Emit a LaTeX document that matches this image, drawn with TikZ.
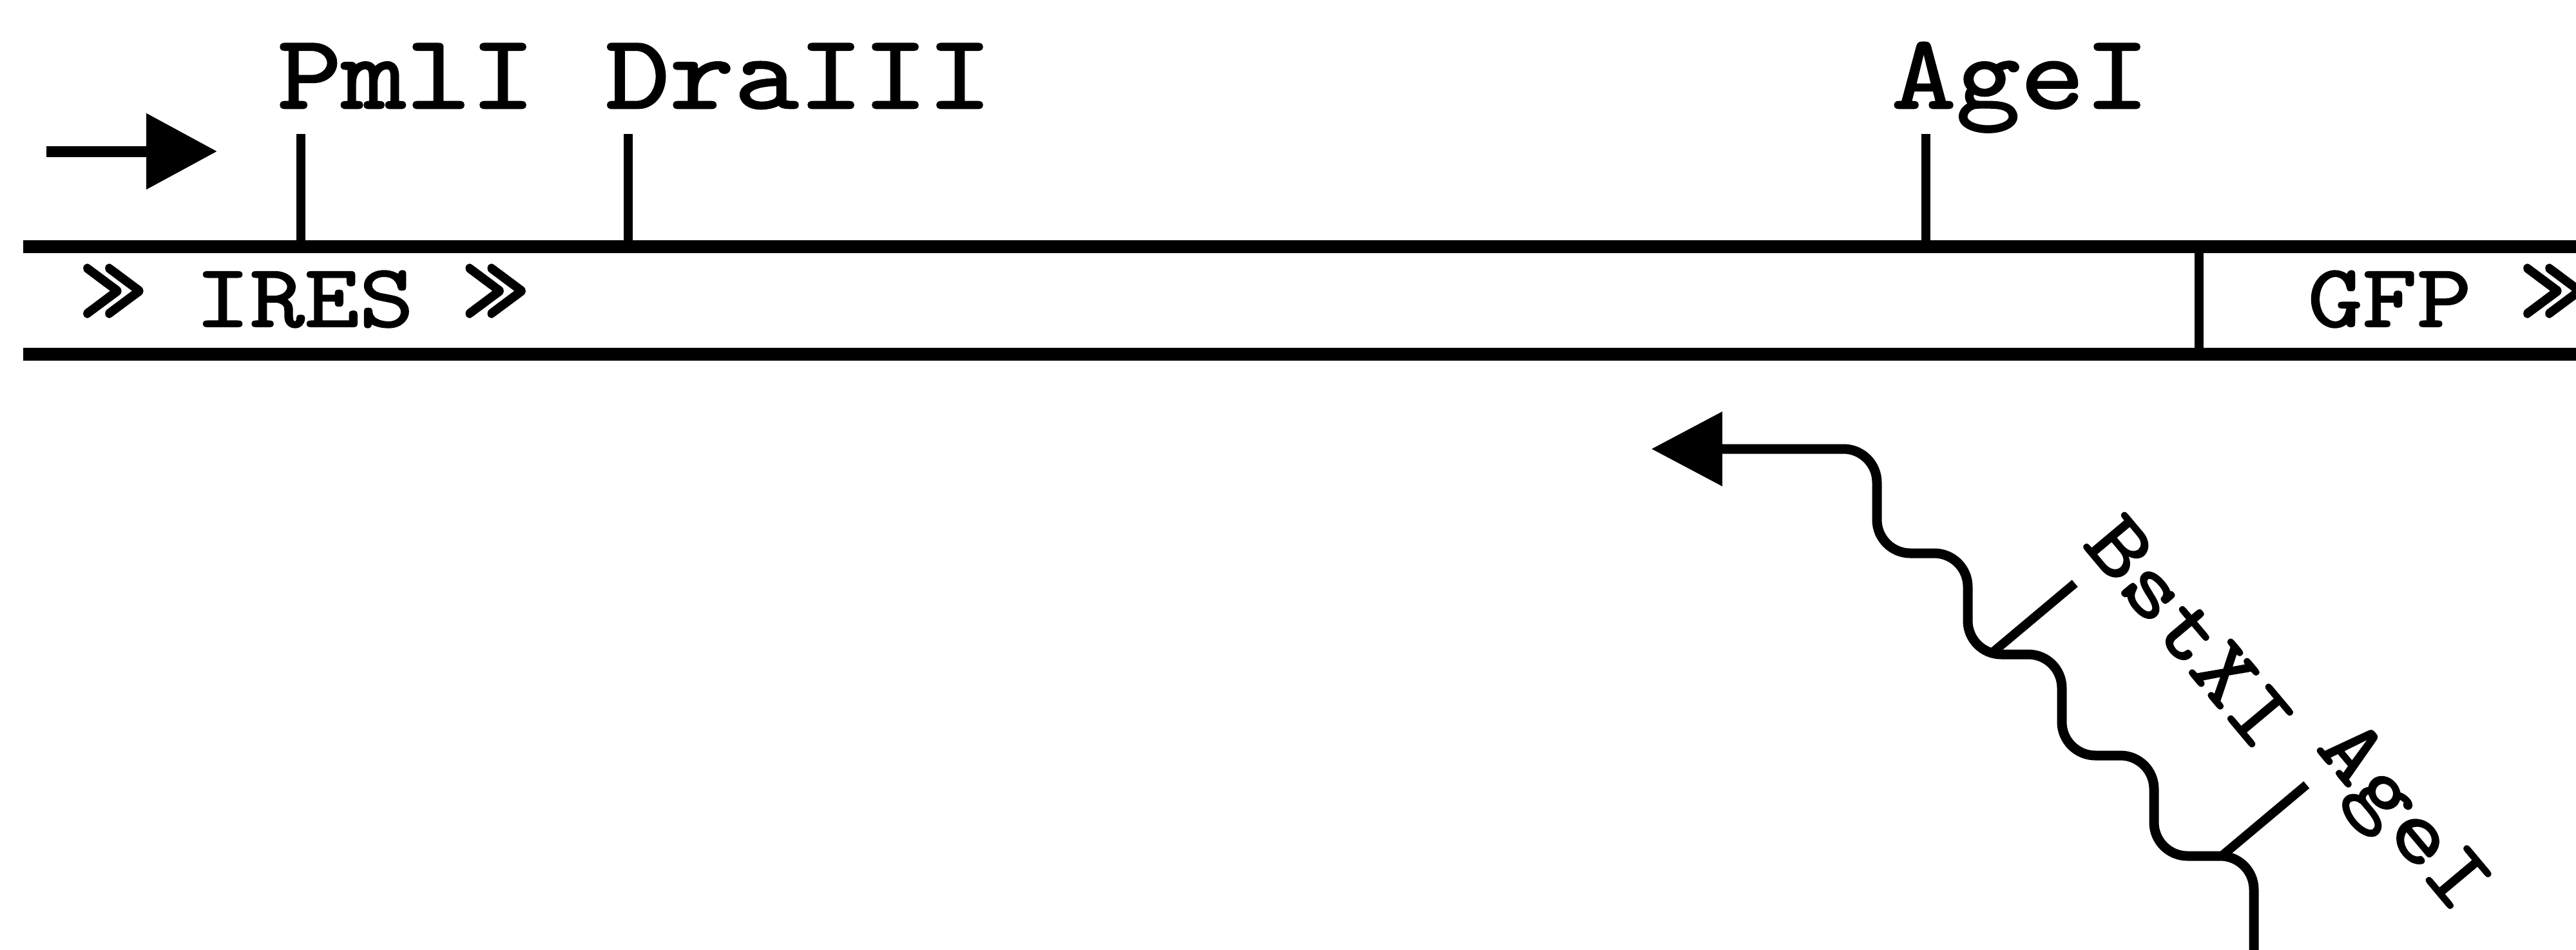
\documentclass[tikz,border=0pt]{standalone}
\usepackage{fontspec}
\newfontfamily\seqfont[Extension=.otf,FakeStretch=1.16,FakeBold=1.6]{lmmono10-regular}
\usetikzlibrary{arrows.meta,calc}

% a wider guillemet for the reading frame
\newcommand\fwd{\makebox[\fontcharwd\font`»]{\scalebox{1.3}{»}}}

\tikzset{
  strand/.style={line width=0.2cm},
  cut/.style={line width=0.14cm},
  mrna/.style={line width=0.15cm, rounded corners=0.52cm,
    -{Triangle[length=1.1cm,width=1.12cm]}},
  sitelab/.style={anchor=base west, inner sep=0pt,
    font=\seqfont\fontsize{46.7}{50}\selectfont},
  genelab/.style={anchor=base west, inner sep=0pt,
    font=\seqfont\fontsize{39.6}{42}\selectfont},
  rnalab/.style={genelab, rotate=-50},
}

\begin{document}
\begin{tikzpicture}
  \useasboundingbox (0,0) rectangle (39.98,-14.74);

  % 1. Strands of the vector
  \coordinate (topL) at (0.36,-3.83);
  \coordinate (topR) at (40.6,-3.83);
  \coordinate (botL) at (0.36,-5.50);
  \coordinate (botR) at (40.6,-5.50);
  \draw[strand] (topL) -- (topR);
  \draw[strand] (botL) -- (botR);

  % 2. Direction of reading
  \coordinate (dirS) at (0.72,-2.35);
  \coordinate (dirE) at (3.37,-2.35);
  \draw[line width=0.17cm, -{Triangle[length=1.1cm,width=1.14cm]}] (dirS) -- (dirE);

  % 3. IRES / GFP junction and the gene names
  \coordinate (junT) at (34.13,-3.83);
  \coordinate (junB) at (34.13,-5.50);
  \draw[cut] (junT) -- (junB);
  \node[genelab] (ires) at (1.33,-5.07) {\fwd{} IRES \fwd};
  \node[genelab] (gfp) at (35.81,-5.07) {GFP \fwd};

  % 4. Sites on the vector
  \coordinate (pmlI) at (4.67,-3.83);
  \coordinate (draIII) at (9.75,-3.83);
  \coordinate (ageI) at (29.89,-3.83);
  \draw[cut] (pmlI) -- ++(0,1.75) coordinate (pmlItop);
  \draw[cut] (draIII) -- ++(0,1.75) coordinate (draIIItop);
  \draw[cut] (ageI) -- ++(0,1.75) coordinate (ageItop);
  \node[sitelab] (pmlIlab) at ($(pmlItop)+(-0.37,0.40)$) {PmlI};
  \node[sitelab] (draIIIlab) at ($(draIIItop)+(-0.36,0.40)$) {DraIII};
  \node[sitelab] (ageIlab) at ($(ageItop)+(-0.54,0.40)$) {AgeI};

  % 5. The transcript
  \coordinate (rnaS) at (34.98,-15.2);
  \coordinate (rnaE) at (25.63,-6.97);
  \draw[mrna] (rnaS) |- (33.43,-13.29) |- (32.00,-11.73)
    |- (30.54,-10.16) |- (29.13,-8.59) |- (rnaE);

  % 6. Sites on the transcript
  \coordinate (bstXI) at (30.90,-10.15);
  \coordinate (ageIb) at (34.48,-13.29);
  \draw[cut] (bstXI) -- ++(40:1.70) coordinate (bstXItop);
  \draw[cut] (ageIb) -- ++(40:1.72) coordinate (ageIbtop);
  \node[rnalab] (bstXIlab) at ($(bstXItop)+(130:0.40)+(40:0.46)$) {BstXI};
  \node[rnalab] (ageIblab) at ($(ageIbtop)+(130:0.36)+(40:0.46)$) {AgeI};
\end{tikzpicture}
\end{document}
